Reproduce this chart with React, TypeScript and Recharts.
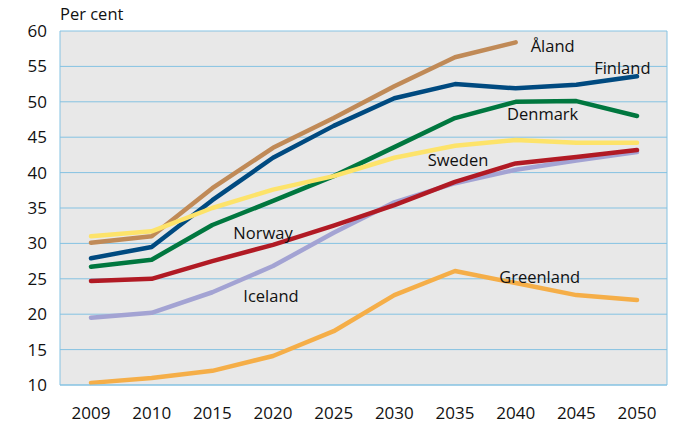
import { LineChart, Line, XAxis, YAxis, CartesianGrid, ReferenceDot } from "recharts";

const years = ["2009", "2010", "2015", "2020", "2025", "2030", "2035", "2040", "2045", "2050"];
const aland = [30.1, 31.0, 37.8, 43.5, 47.7, 52.2, 56.3, 58.4, null, null];
const finland = [27.9, 29.5, 36.1, 42.1, 46.6, 50.5, 52.5, 51.9, 52.4, 53.6];
const denmark = [26.7, 27.7, 32.6, 36.0, 39.5, 43.6, 47.7, 50.0, 50.1, 48.0];
const sweden = [31.0, 31.7, 35.0, 37.6, 39.5, 42.1, 43.8, 44.6, 44.2, 44.2];
const norway = [24.7, 25.0, 27.5, 29.8, 32.5, 35.4, 38.7, 41.3, 42.2, 43.2];
const iceland = [19.5, 20.2, 23.1, 26.8, 31.5, 35.8, 38.5, 40.4, 41.7, 42.9];
const greenland = [10.3, 11.0, 12.0, 14.1, 17.6, 22.7, 26.1, 24.4, 22.7, 22.0];
const yTicks = [10, 15, 20, 25, 30, 35, 40, 45, 50, 55, 60];

const data = years.map((year, i) => ({
  year,
  aland: aland[i],
  finland: finland[i],
  denmark: denmark[i],
  sweden: sweden[i],
  norway: norway[i],
  iceland: iceland[i],
  greenland: greenland[i],
}));

// series labels, placed next to a category + value with a small pixel nudge
const labels = [
  { text: "Åland", x: "2040", y: 57.9, dx: 37 },
  { text: "Finland", x: "2045", y: 54.9, dx: 46 },
  { text: "Denmark", x: "2040", y: 48.4, dx: 27 },
  { text: "Sweden", x: "2035", y: 41.8, dx: 3 },
  { text: "Norway", x: "2020", y: 31.6, dx: -10 },
  { text: "Iceland", x: "2020", y: 22.6, dx: -2 },
  { text: "Greenland", x: "2040", y: 25.3, dx: 24 },
];

const font = "'Open Sans', sans-serif";
const gridBlue = "#85c2e2";
const tickStyle = { fill: "#111", fontSize: 17, fontFamily: font };

const series = [
  { key: "greenland", color: "#f5ae48" },
  { key: "iceland", color: "#a3a3d3" },
  { key: "norway", color: "#b11a24" },
  { key: "denmark", color: "#00773f" },
  { key: "aland", color: "#c08a57" },
  { key: "finland", color: "#004a80" },
  { key: "sweden", color: "#fde36a" },
];

const App = () => {
  return (
    <div style={{ position: "absolute", left: 0, top: 0, width: 678, height: 424, background: "#fff" }}>
      <div
        style={{
          position: "absolute",
          left: 60,
          top: 2,
          fontFamily: font,
          fontSize: 16.5,
          color: "#111",
        }}
      >
        Per cent
      </div>
      <LineChart width={678} height={424} data={data} margin={{ top: 31, right: 0, bottom: 0, left: 0 }}>
        <CartesianGrid vertical={false} stroke={gridBlue} fill="#e8e8e8" />
        <XAxis
          dataKey="year"
          height={39}
          padding={{ left: 31, right: 30 }}
          axisLine={{ stroke: gridBlue }}
          tickLine={false}
          tickSize={0}
          tickMargin={22}
          tick={tickStyle}
          interval={0}
        />
        <YAxis
          domain={[10, 60]}
          ticks={yTicks}
          width={60}
          axisLine={{ stroke: gridBlue }}
          tickLine={false}
          tickSize={0}
          tickMargin={13}
          tick={tickStyle}
        />
        <YAxis
          yAxisId="right"
          orientation="right"
          domain={[10, 60]}
          width={11}
          tick={false}
          tickLine={false}
          axisLine={{ stroke: gridBlue }}
        />
        {series.map((s) => (
          <Line
            key={s.key}
            dataKey={s.key}
            type="linear"
            stroke={s.color}
            strokeWidth={4.5}
            strokeLinecap="round"
            strokeLinejoin="round"
            dot={false}
            activeDot={false}
            isAnimationActive={false}
          />
        ))}
        {labels.map((l) => (
          <ReferenceDot
            key={l.text}
            x={l.x}
            y={l.y}
            r={0}
            ifOverflow="visible"
            shape={(p: any) => (
              <text
                x={p.cx + l.dx}
                y={p.cy}
                textAnchor="middle"
                dominantBaseline="central"
                fontFamily={font}
                fontSize={16.5}
                fill="#111"
              >
                {l.text}
              </text>
            )}
          />
        ))}
      </LineChart>
    </div>
  );
};

export default App;
